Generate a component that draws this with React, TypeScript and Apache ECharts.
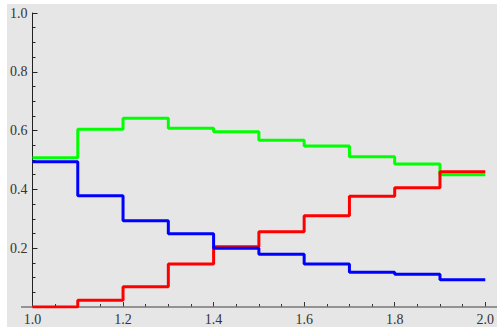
import React, { useEffect, useRef } from "react";
import * as echarts from "echarts";

const binStarts = [1.0, 1.1, 1.2, 1.3, 1.4, 1.5, 1.6, 1.7, 1.8, 1.9];
const binEnd = 2.0;
const greenValues = [0.508, 0.605, 0.642, 0.608, 0.596, 0.567, 0.548, 0.511, 0.486, 0.45];
const blueValues = [0.494, 0.378, 0.293, 0.249, 0.2, 0.179, 0.146, 0.118, 0.111, 0.093];
const redValues = [0.0, 0.023, 0.069, 0.146, 0.205, 0.256, 0.31, 0.377, 0.406, 0.46];

const seriesDefs = [
  { name: "green", color: "#00ff00", values: greenValues },
  { name: "red", color: "#ff0000", values: redValues },
  { name: "blue", color: "#0000ff", values: blueValues },
];

function stepData(values: number[]) {
  const pts = binStarts.map((x, i) => [x, values[i]]);
  pts.push([binEnd, values[values.length - 1]]);
  return pts;
}

export default function App() {
  const ref = useRef<HTMLDivElement>(null);
  useEffect(() => {
    if (!ref.current) return;
    const chart = echarts.init(ref.current, null, { renderer: "svg" });
    const font = "Liberation Serif";
    chart.setOption({
      animation: false,
      backgroundColor: "#e6e6e6",
      textStyle: { fontFamily: font },
      grid: { left: 24, right: 10, top: 9, bottom: 20, containLabel: false },
      xAxis: {
        type: "value",
        min: 1,
        max: 2,
        interval: 0.2,
        splitLine: { show: false },
        axisLine: { show: false },
        axisTick: { show: true, inside: true, length: 5, lineStyle: { color: "#333", width: 1 } },
        minorTick: { show: true, splitNumber: 4, length: 3, lineStyle: { color: "#333", width: 1 } },
        axisLabel: {
          formatter: (v: number) => v.toFixed(1),
          fontFamily: font,
          fontSize: 14,
          color: "#333",
          margin: 5,
        },
      },
      yAxis: {
        type: "value",
        min: 0,
        max: 1,
        interval: 0.2,
        splitLine: { show: false },
        axisLine: { show: true, onZero: false, lineStyle: { color: "#222", width: 1 } },
        axisTick: { show: true, inside: true, length: 5, lineStyle: { color: "#222", width: 1 } },
        minorTick: { show: true, splitNumber: 4, length: 3, lineStyle: { color: "#222", width: 1 } },
        axisLabel: {
          formatter: (v: number) => (v === 0 ? "" : v.toFixed(1)),
          fontFamily: font,
          fontSize: 14,
          color: "#333",
          margin: 5,
        },
      },
      graphic: [
        {
          type: "line",
          shape: { x1: 14, y1: 303, x2: 490, y2: 303 },
          style: { stroke: "#777", lineWidth: 1.5 },
          z: 1,
        },
      ],
      series: seriesDefs.map((s) => ({
        name: s.name,
        type: "line",
        step: "end",
        data: stepData(s.values),
        showSymbol: false,
        symbol: "none",
        lineStyle: { color: s.color, width: 3 },
        itemStyle: { color: s.color },
        z: 3,
      })),
    });
    return () => chart.dispose();
  }, []);
  return (
    <div
      ref={ref}
      style={{ position: "absolute", left: 7, top: 4, width: 490, height: 323 }}
    />
  );
}
